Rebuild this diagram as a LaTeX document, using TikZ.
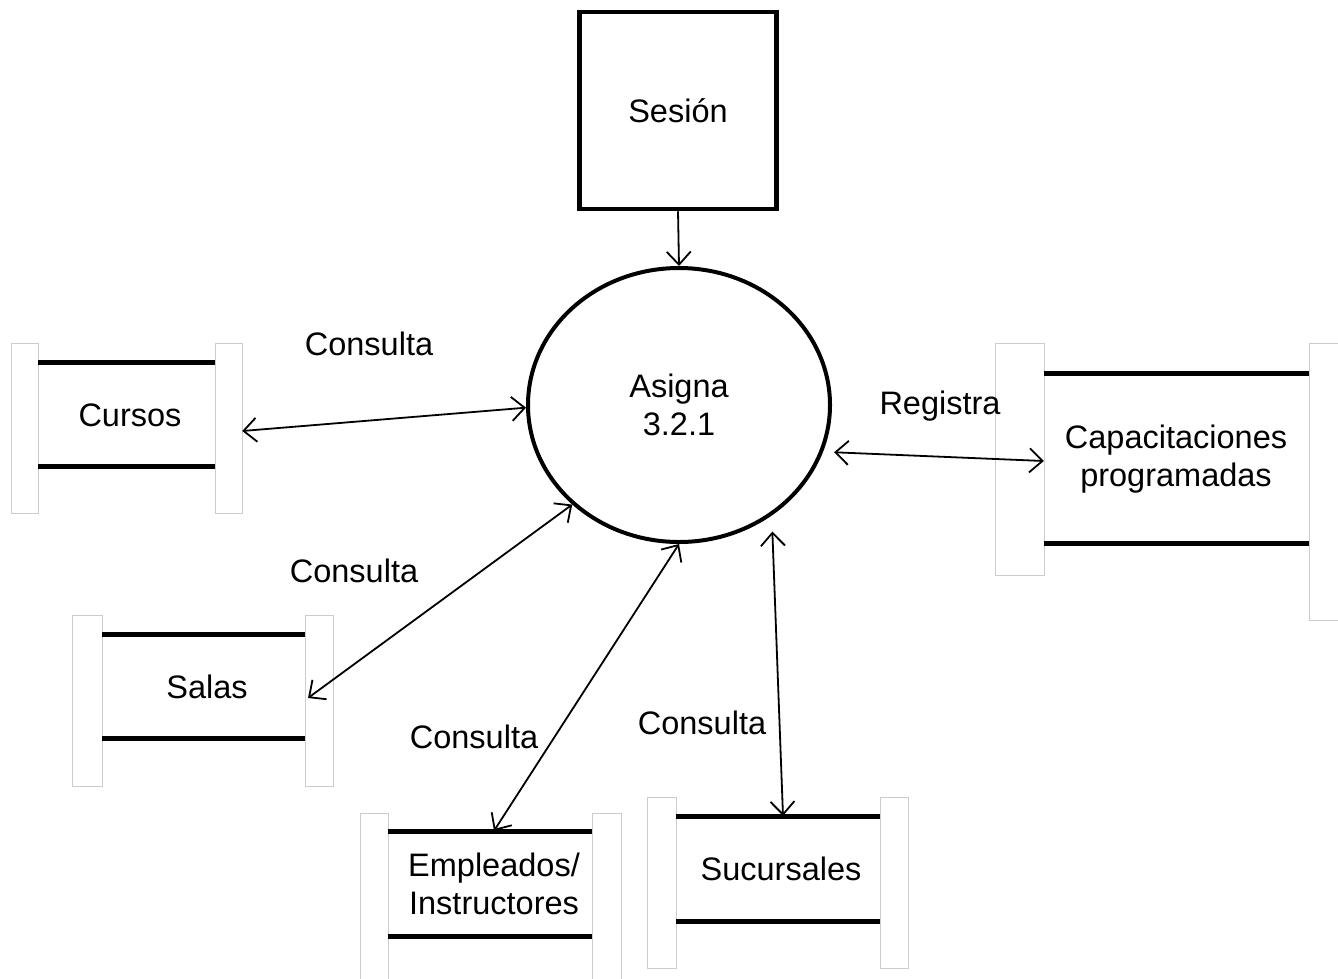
\documentclass[tikz,border=0pt]{standalone}
\usepackage{fontspec}
\setmainfont{Liberation Sans}
\usetikzlibrary{shapes.geometric,arrows.meta}
\begin{document}
\begin{tikzpicture}[x=1pt,y=-1pt,
  every node/.style={font=\fontsize{32.5}{38.5}\selectfont, align=center, inner sep=0pt},
  tab/.style={draw=black!20, line width=1pt, fill=white},
  bar/.style={line width=5pt, draw=black},
  flow/.style={line width=1.8pt, {Straight Barb[length=13pt,width=24pt]}-{Straight Barb[length=13pt,width=24pt]}},
  inflow/.style={line width=1.8pt, -{Straight Barb[length=13pt,width=24pt]}},
  lbl/.style={}]
\useasboundingbox (0,0) rectangle (1338,978);
% Entity
\node[draw, line width=4.5pt, minimum width=197pt, minimum height=197pt] (sesion) at (678,110.5) {Sesión};
% Process
\node[ellipse, draw, line width=4pt, minimum width=302pt, minimum height=274pt] (asigna) at (679,405) {Asigna\\3.2.1};
% Stores
% Cursos
\draw[tab] (11,343) rectangle (38,513);
\draw[tab] (215,343) rectangle (242,513);
\draw[bar] (38,362) -- (215,362);
\draw[bar] (38,466) -- (215,466);
\node[minimum width=204pt, minimum height=104pt] (cursos) at (140,414) {};
\node (cursostxt) at (130,415) {Cursos};
% Salas
\draw[tab] (72,615) rectangle (102,786);
\draw[tab] (305,615) rectangle (333,786);
\draw[bar] (102,634) -- (305,634);
\draw[bar] (102,738) -- (305,738);
\node[minimum width=203pt, minimum height=104pt] (salas) at (204,686) {};
\node (salastxt) at (207,687) {Salas};
% Empleados
\draw[tab] (360,813) rectangle (388,990);
\draw[tab] (592,813) rectangle (621,990);
\draw[bar] (388,831) -- (592,831);
\draw[bar] (388,936) -- (592,936);
\node[minimum width=204pt, minimum height=105pt] (empleados) at (490,883.5) {};
\node (empleadostxt) at (494,884) {Empleados/\\Instructores};
% Sucursales
\draw[tab] (647,797) rectangle (676,968);
\draw[tab] (880,797) rectangle (908,968);
\draw[bar] (676,816) -- (880,816);
\draw[bar] (676,921) -- (880,921);
\node[minimum width=204pt, minimum height=105pt] (sucursales) at (778,868.5) {};
\node (sucursalestxt) at (781,869) {Sucursales};
% Capacitaciones
\draw[tab] (995,343) rectangle (1044,575);
\draw[tab] (1309,343) rectangle (1350,620);
\draw[bar] (1044,373) -- (1309,373);
\draw[bar] (1044,543) -- (1309,543);
\node[minimum width=265pt, minimum height=170pt] (capacitaciones) at (1176.5,458) {};
\node (capacitacionestxt) at (1176,459) {Capacitaciones\\programadas};
% Flows
\draw[inflow] (sesion.south) -- (asigna.north);
\draw[flow] (asigna.181) -- (cursos.east |- 0,431);
\draw[flow] (asigna.223) -- (308,698);
\draw[flow] (asigna.270) -- (empleados.north -| 494,0);
\draw[flow, shorten <=16pt] (asigna.-50.4) -- (sucursales.north -| 783,0);
\draw[flow, shorten <=11pt] (asigna.-18.6) -- (capacitaciones.west |- 0,461);
% Labels
\node[lbl] (l1) at (369,344) {Consulta};
\node[lbl] (l2) at (354,571) {Consulta};
\node[lbl] (l3) at (474,737) {Consulta};
\node[lbl] (l4) at (702,723) {Consulta};
\node[lbl] (l5) at (940,406) {Registra};
\end{tikzpicture}
\end{document}
